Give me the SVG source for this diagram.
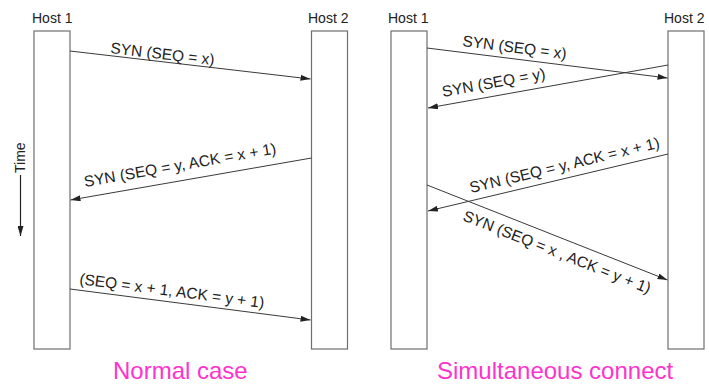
<svg xmlns="http://www.w3.org/2000/svg" width="709" height="386" viewBox="0 0 709 386">
  <style>
    .bar { fill: #ffffff; stroke: #6e6e6e; stroke-width: 1.2; }
    .host { font-family: "Liberation Sans", Arial, sans-serif; font-size: 14px; fill: #222; }
    .msg { font-family: "Liberation Sans", Arial, sans-serif; font-size: 15.5px; fill: #222; }
    .link { stroke: #3a3a3a; stroke-width: 1; fill: none; marker-end: url(#head); }
    .caption { font-family: "Liberation Sans", Arial, sans-serif; font-size: 24px; fill: #ff33cc; }
  </style>
  <defs>
    <marker id="head" viewBox="0 0 10 6" refX="10" refY="3" markerWidth="10" markerHeight="6" markerUnits="userSpaceOnUse" orient="auto">
      <path d="M0,0 L10,3 L0,6 Z" fill="#222"/>
    </marker>
  </defs>
  <rect width="709" height="386" fill="#ffffff"/>

  <!-- Normal case -->
  <g id="n-host1">
    <rect class="bar" x="34" y="31" width="36" height="318"/>
    <text class="host" x="32" y="23">Host 1</text>
  </g>
  <g id="n-host2">
    <rect class="bar" x="311.5" y="31" width="36" height="318"/>
    <text class="host" x="308" y="23">Host 2</text>
  </g>
  <g id="time-axis">
    <text class="host" transform="translate(25,173) rotate(-90)">Time</text>
    <line x1="20.5" y1="175" x2="20.5" y2="236" stroke="#222" stroke-width="1.2" marker-end="url(#head)"/>
  </g>

  <!-- Simultaneous connect -->
  <g id="s-host1">
    <rect class="bar" x="391" y="31" width="36" height="318"/>
    <text class="host" x="388" y="23">Host 1</text>
  </g>
  <g id="s-host2">
    <rect class="bar" x="668" y="31" width="36" height="318"/>
    <text class="host" x="664" y="23">Host 2</text>
  </g>

  <g id="connectors">
    <line class="link" x1="70" y1="51" x2="310.5" y2="79"/>
    <line class="link" x1="311.5" y1="158" x2="70.5" y2="200"/>
    <line class="link" x1="70" y1="289" x2="310.5" y2="320"/>

    <line class="link" x1="427" y1="48" x2="667.5" y2="78"/>
    <line class="link" x1="668" y1="65" x2="428" y2="108"/>
    <line class="link" x1="668" y1="154" x2="428" y2="211"/>
    <line class="link" x1="427" y1="185" x2="667.5" y2="280"/>
  </g>

  <g id="labels">
    <text class="msg" transform="translate(110,53) rotate(6.65)">SYN (SEQ = x)</text>
    <text class="msg" transform="translate(85,187) rotate(-9.9)">SYN (SEQ = y, ACK = x + 1)</text>
    <text class="msg" transform="translate(79,284) rotate(7.4)">(SEQ = x + 1, ACK = y + 1)</text>

    <text class="msg" transform="translate(462,46) rotate(7.2)">SYN (SEQ = x)</text>
    <text class="msg" transform="translate(443,97) rotate(-10.2)">SYN (SEQ = y)</text>
    <text class="msg" transform="translate(471,193) rotate(-13.5)">SYN (SEQ = y, ACK = x + 1)</text>
    <text class="msg" transform="translate(462,220) rotate(21.6)">SYN (SEQ = x , ACK = y + 1)</text>
  </g>

  <text class="caption" x="113" y="379">Normal case</text>
  <text class="caption" x="437" y="379">Simultaneous connect</text>
</svg>
